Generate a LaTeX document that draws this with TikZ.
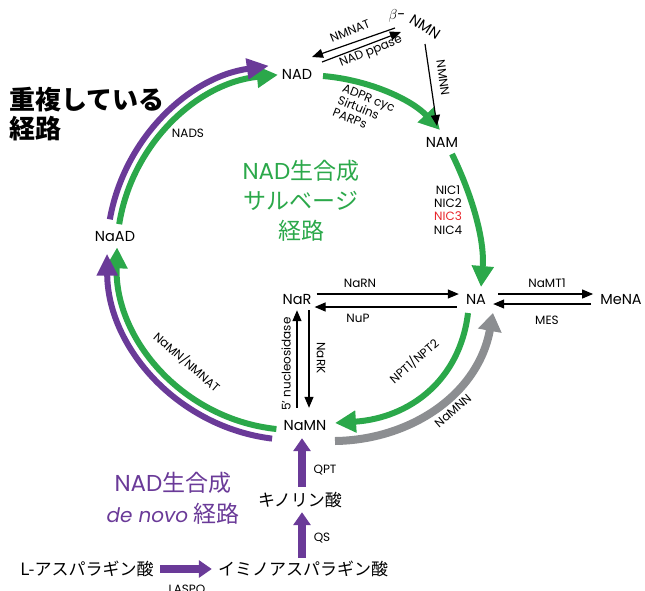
\documentclass[tikz,border=0pt]{standalone}
\usepackage{fontspec}
\setmainfont{Poppins}
\newfontfamily\jp{Noto Sans CJK JP}
\usetikzlibrary{arrows.meta}
\definecolor{pgreen}{RGB}{43,168,74}
\definecolor{ppurple}{RGB}{106,58,152}
\definecolor{pgray}{RGB}{140,142,145}
\definecolor{pred}{RGB}{232,38,44}
\tikzset{
  mol/.style={font=\fontsize{14.5}{16}\selectfont, inner sep=0pt, text height=10pt, text depth=0pt},
  enz/.style={font=\fontsize{12}{14}\selectfont, inner sep=0pt},
  jpmol/.style={font=\jp\fontsize{17}{19}\selectfont, inner sep=0pt, text height=12pt, text depth=0pt},
  thinarr/.style={line width=1.2pt, -{Triangle[length=11pt,width=9pt]}},
  garr/.style={pgreen, line width=6pt, -{Triangle[length=21pt,width=21pt]}},
  parr/.style={ppurple, line width=6pt, -{Triangle[length=22pt,width=20pt]}},
  grarr/.style={pgray, line width=8pt, -{Triangle[length=18pt,width=23pt]}},
  pstraight/.style={ppurple, line width=7.5pt, -{Triangle[length=13pt,width=17pt]}},
  bigtitle/.style={inner sep=0pt, align=center}
}
\begin{document}
\begin{tikzpicture}[x=1pt,y=-1pt]
\useasboundingbox (0,0) rectangle (645,590);

% molecules
\node[mol] (NAD) at (297,74) {NAD};
\node[mol] (NAM) at (442,142) {NAM};
\node[mol] (NA) at (476,299) {NA};
\node[mol] (MeNA) at (621,299) {MeNA};
\node[mol] (NaR) at (297,299) {NaR};
\node[mol] (NaMN) at (305,425) {NaMN};
\node[mol] (NaAD) at (115,236) {NaAD};
\node[font=\fontsize{14.5}{16}\selectfont, inner sep=0pt] (beta) at (397,16) {$\beta$-};
\node[mol, rotate=-33] (NMN) at (425,27) {NMN};
\node[jpmol] (QA) at (300,500) {キノリン酸};
\node[jpmol] (IA) at (303,569) {イミノアスパラギン酸};
\node[jpmol] (LA) at (87,569) {L-アスパラギン酸};

% big titles
\node[inner sep=0pt, align=left, anchor=west, font=\jp\bfseries\fontsize{26}{29}\selectfont] (dup) at (9,114) {重複している\\経路};
\node[bigtitle, text=pgreen, font=\jp\fontsize{23}{30}\selectfont] (salv) at (301,201) {{\rmfamily NAD}生合成\\サルベージ\\経路};
\node[bigtitle, text=ppurple, font=\jp\fontsize{23}{31}\selectfont] (denovo) at (173,498) {{\rmfamily NAD}生合成\\{\rmfamily\itshape\fontsize{20}{31}\selectfont de novo} 経路};

% center of the cycle
\coordinate (C) at (295,252);

% left double arcs
\path (C) ++(189:178) coordinate (gTL);
\path (C) ++(190:188) coordinate (pTL);
\path (C) ++(96:178) coordinate (gBL);
\path (C) ++(97:188) coordinate (pBL);
\draw[garr] (gTL) arc[start angle=189, end angle=264.5, radius=178];
\draw[parr] (pTL) arc[start angle=190, end angle=262, radius=188];
\draw[garr] (gBL) arc[start angle=96, end angle=181.5, radius=178];
\draw[parr] (pBL) arc[start angle=97, end angle=179.5, radius=188];

% green salvage curves
\coordinate (s1) at (323,76);
\coordinate (e1) at (440,130);
\draw[garr] (s1) .. controls (370,80) and (412,100) .. (e1);
\coordinate (s2) at (452,154);
\coordinate (e2) at (481,287);
\draw[garr] (s2) .. controls (472,195) and (485,240) .. (e2);
\coordinate (s3) at (468,313);
\coordinate (e3) at (335,423);
\draw[garr] (s3) .. controls (460,380) and (410,418) .. (e3);
% gray
\coordinate (s4) at (335,441);
\coordinate (e4) at (493,313);
\draw[grarr] (s4) .. controls (410,440) and (478,395) .. (e4);

% thin black arrows
\coordinate (n1) at (395,28);
\coordinate (n2) at (322,62);
\draw[thinarr] (n1) -- (312,57);
\draw[thinarr] (n2) -- (401,32);
\draw[thinarr] (425,44) -- (437,126);
\draw[thinarr] ([xshift=5pt,yshift=5pt]NaR.east) -- ([xshift=-7pt,yshift=5pt]NA.west);
\draw[thinarr] ([xshift=-9pt,yshift=-8pt]NA.west) -- ([xshift=3pt,yshift=-8pt]NaR.east);
\draw[thinarr] ([xshift=12pt,yshift=5pt]NA.east) -- ([xshift=-7pt,yshift=5pt]MeNA.west);
\draw[thinarr] ([xshift=-9pt,yshift=-5pt]MeNA.west) -- ([xshift=7pt,yshift=-5pt]NA.east);
\draw[thinarr] ([xshift=-8pt,yshift=12pt]NaMN.north) -- ([yshift=-6pt]NaR.south);
\draw[thinarr] ([xshift=12pt,yshift=-6pt]NaR.south) -- ([xshift=4pt,yshift=12pt]NaMN.north);

% purple de novo arrows
\draw[pstraight] ([xshift=2pt,yshift=7pt]QA.north) -- ([xshift=-3pt,yshift=-8pt]NaMN.south);
\draw[pstraight] ([xshift=-1pt,yshift=5pt]IA.north) -- ([xshift=2pt,yshift=-6pt]QA.south);
\draw[pstraight] ([xshift=6pt]LA.east) -- ([xshift=-6pt]IA.west);

% enzyme labels
\node[enz, rotate=22] (lNMNAT) at (350,31) {NMNAT};
\node[enz, rotate=22] (lppase) at (371,52) {NAD ppase};
\node[enz, rotate=-82] (lNMNN) at (443,78) {NMNN};
\node[enz, rotate=-22, align=left, font=\fontsize{12}{13}\selectfont] (lADPR) at (364,110) {ADPR cyc\\Sirtuins\\PARPs};
\node[enz, align=center, font=\fontsize{12}{13.3}\selectfont] (lNIC) at (448,210) {NIC1\\NIC2\\\textcolor{pred}{NIC3}\\NIC4};
\node[enz] (lNaRN) at (360,283) {NaRN};
\node[enz] (lNuP) at (358,318) {NuP};
\node[enz] (lNaMT) at (547,283) {NaMT1};
\node[enz] (lMES) at (547,320) {MES};
\node[enz, rotate=90] (lnuc) at (286,364) {5' nucleosidase};
\node[enz, rotate=-90] (lNaRK) at (321,358) {NaRK};
\node[enz, rotate=41] (lNPT) at (414,361) {NPT1/NPT2};
\node[enz, rotate=41] (lNaMNN) at (453,411) {NaMNN};
\node[enz, rotate=-41] (lNaMNNMNAT) at (187,362) {NaMN/NMNAT};
\node[enz] (lNADS) at (188,133) {NADS};
\node[enz] (lQPT) at (325,470) {QPT};
\node[enz] (lQS) at (322,538) {QS};
\node[enz] (lLASPO) at (187,589) {LASPO};
\end{tikzpicture}
\end{document}
